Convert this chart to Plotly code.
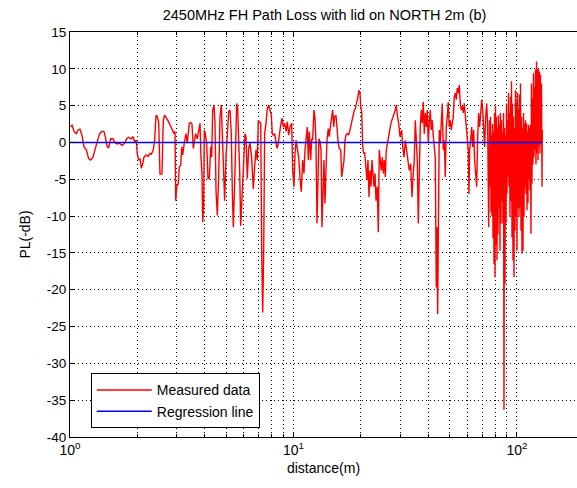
import plotly.graph_objects as go

# ---------------- data (distance in m, path loss in -dB) ----------------
dist_1 = [1.007, 1.021, 1.042, 1.067, 1.086, 1.108, 1.131, 1.155, 1.183, 1.212,
          1.238, 1.267, 1.298, 1.325, 1.357, 1.390, 1.419, 1.438, 1.468, 1.489,
          1.521, 1.557, 1.584, 1.628, 1.668, 1.709, 1.756, 1.793, 1.830, 1.880,
          1.913, 1.946, 1.979, 1.999, 2.028, 2.057, 2.085, 2.115, 2.143, 2.189,
          2.233, 2.280, 2.311, 2.359, 2.392, 2.426, 2.458, 2.493, 2.527, 2.579,
          2.614, 2.651, 2.708, 2.763, 2.822, 2.880, 2.920, 2.950]
pl_1 = [2.1, 2.4, 1.5, 1.2, 1.7, 1.8, 1.0, -0.6, -1.0, -2.2,
        -2.4, -2.0, -0.8, 0.3, 1.2, 1.5, 1.5, 0.8, -0.6, -0.7,
        0.5, 0.5, 0.0, -0.2, -0.1, -0.4, -0.1, 0.5, 0.7, 0.5,
        0.8, 0.1, 0.3, -1.5, -2.4, -2.2, -3.5, -2.9, -2.0, -1.7,
        -1.9, -1.5, -1.6, -1.0, 0.3, 3.7, 3.5, 2.8, -4.3, -4.3,
        3.0, 3.7, 3.3, 2.8, 2.2, 1.5, 1.2, 1.5]

dist_2 = [2.972, 3.002, 3.052, 3.083, 3.129, 3.161, 3.193, 3.246, 3.304, 3.348,
          3.417, 3.468, 3.514, 3.562, 3.598, 3.651, 3.711, 3.777, 3.817, 3.857,
          3.896, 3.924, 3.964, 3.989, 4.030, 4.089, 4.143, 4.199, 4.262, 4.305,
          4.349, 4.409, 4.455, 4.501, 4.561, 4.627, 4.690, 4.753, 4.802, 4.852,
          4.920, 4.989, 5.056, 5.128, 5.199, 5.269, 5.323, 5.378, 5.454, 5.514,
          5.570, 5.627, 5.685, 5.742, 5.806, 5.865, 5.925, 6.006, 6.068, 6.131,
          6.212, 6.302, 6.389, 6.501, 6.609, 6.702, 6.797, 6.887, 6.959, 7.030,
          7.135, 7.208, 7.281, 7.356, 7.430, 7.535, 7.634, 7.744, 7.852, 7.958,
          8.039, 8.123, 8.237, 8.353, 8.438, 8.523, 8.639, 8.768, 8.884, 9.004,
          9.130, 9.258, 9.381, 9.516, 9.646, 9.816, 9.916, 10.05, 10.16, 10.27,
          10.40, 10.55]
pl_2 = [-7.9, -6.0, -5.6, -3.3, -3.1, -0.6, -1.7, -0.1, 1.2, -0.1,
        2.6, 2.7, 2.5, -0.8, -0.1, 1.2, 0.5, 1.7, 2.6, -2.2,
        -4.2, -10.8, -8.8, 1.7, 1.2, -0.1, -4.9, -4.9, -0.6, -2.0,
        4.4, 5.1, 2.6, -6.5, -9.9, -4.7, 3.5, 5.1, 1.7, -3.8,
        -7.9, -2.0, 2.1, 4.2, 4.4, 1.2, -6.5, -11.5, -5.6, 2.6,
        5.3, 4.6, 1.2, -3.8, -11.3, -7.9, -5.1, -2.0, 1.2, 0.8,
        -4.9, -0.8, -0.1, -2.2, -6.3, -3.3, -1.0, -2.4, 3.0, 2.8,
        2.6, -15.1, -23.1, -14.7, 1.2, 2.6, 4.6, 5.1, 4.4, 3.7,
        1.2, 1.0, 1.2, 0.3, -0.8, -0.4, 1.2, 2.4, 3.3, 2.1,
        2.6, 1.5, 2.8, 1.0, 2.1, 2.6, -3.8, -6.0, -1.5, 0.3,
        -0.8, -2.0]

dist_3 = [10.69, 10.83, 10.99, 11.14, 11.26, 11.38, 11.53, 11.65, 11.77, 11.94,
          12.06, 12.18, 12.35, 12.48, 12.61, 12.74, 12.87, 13.00, 13.14, 13.28,
          13.41, 13.55, 13.69, 13.83, 13.97, 14.12, 14.31, 14.45, 14.68, 14.83,
          14.98, 15.13, 15.28, 15.49, 15.69, 15.86, 16.02, 16.27, 16.43, 16.60,
          16.83, 17.00, 17.18, 17.40, 17.65, 17.90, 18.09, 18.27, 18.52, 18.71,
          18.90, 19.17, 19.42, 19.63, 19.84, 19.98, 20.19, 20.40, 20.60, 20.81,
          21.11, 21.32, 21.54, 21.77, 21.99, 22.22, 22.45, 22.67, 22.91, 23.16,
          23.40, 23.71, 23.96, 24.20, 24.46, 24.71, 24.96, 25.22, 25.48, 25.75,
          26.02, 26.28, 26.56, 26.83, 27.11, 27.39, 27.67, 27.96, 28.25, 28.55,
          28.84, 29.14, 29.56, 29.96, 30.49, 30.80, 31.22, 31.64, 32.10, 32.52,
          32.96, 33.45, 33.90, 34.36, 34.70, 35.08, 35.44, 35.80, 36.18, 36.54]
pl_3 = [-4.7, -6.7, -2.4, -4.2, -1.0, 0.8, 2.1, -2.4, 1.5, -2.4,
        0.5, 0.3, 4.4, 3.3, -0.1, -11.0, -2.4, 0.5, 0.1, -1.0,
        -11.5, -7.9, -2.4, -8.3, -4.7, 0.3, 1.9, 0.8, 2.6, 4.0,
        4.4, 2.1, 3.5, 3.7, 1.2, -0.1, -0.8, -1.0, -4.7, -3.3,
        -2.4, 0.3, 1.0, 1.2, 1.0, 1.7, 2.4, 3.0, 4.0, 4.4,
        4.6, 5.3, 6.2, 7.1, 6.7, 4.9, 4.2, -0.6, -1.5, -1.3,
        -3.8, -5.1, -2.4, -7.4, -3.8, -6.0, -2.4, -4.7, -6.0, -4.2,
        -7.9, -6.0, -12.2, -1.0, -2.4, -3.8, -2.0, -4.2, -2.4, -4.7,
        -1.0, -0.1, 0.8, 1.7, 2.1, 2.8, 3.3, 3.7, 4.0, 4.4,
        5.1, 3.7, 2.6, 0.8, 1.7, -0.6, -2.0, 0.3, -1.0, -2.4,
        -3.8, -2.9, -7.4, -4.2, -2.4, 3.0, -0.6, -2.4, -11.0, -3.8]

dist_4 = [36.92, 37.31, 37.69, 38.08, 38.47, 38.88, 39.28, 39.68, 40.10, 40.50,
          40.94, 41.36, 41.78, 42.22, 42.65, 43.09, 43.54, 43.85, 44.16, 44.44,
          44.89, 45.37, 45.84, 46.31, 46.79, 47.27, 47.77, 48.26, 48.75, 49.26,
          49.76, 50.30, 50.82, 51.33, 51.87, 52.40, 52.95, 53.50, 54.05, 54.61,
          55.17, 55.76, 56.34, 56.91, 57.51, 58.09, 58.70, 59.31, 59.91, 60.54,
          60.98, 61.39, 62.07, 62.70, 63.35, 63.99, 64.64, 65.35, 66.02, 66.70,
          67.38, 68.06, 68.81, 69.51, 70.22, 70.94, 71.66, 72.45, 73.19, 73.93,
          74.69, 75.16]
pl_4 = [2.1, 4.4, 2.6, 5.5, 1.2, 4.0, 2.1, 4.4, -0.1, 2.6,
        4.4, 1.7, 3.0, 0.8, -1.0, -2.0, -19.7, -11.5, -23.3, -7.0,
        1.7, -0.1, 3.5, 5.3, -1.0, 0.3, -4.7, 2.1, 3.5, 5.5,
        2.1, 3.0, 1.7, 2.6, 3.5, 6.2, 6.7, 5.8, 7.4, 6.7,
        7.8, 5.3, 4.4, 4.9, 4.0, 5.3, 3.7, 2.6, 0.8, -1.0,
        -7.0, -1.0, 0.3, 2.1, -0.6, 1.7, -2.4, -4.2, -6.0, 0.8,
        4.0, 2.1, 4.9, 5.8, 4.4, 2.1, -0.6, 3.5, 5.3, 2.1,
        -11.5, -2.4]

dist_5 = [75.30, 75.72, 76.11, 76.51, 76.90, 77.30, 77.70, 78.10, 78.51, 78.91,
          79.32, 79.72, 80.13, 80.55, 80.97, 81.39, 81.81, 82.23, 82.66, 83.09,
          83.52, 83.93, 84.37, 84.80, 85.24, 85.68, 86.13, 86.57, 87.02, 87.47,
          87.92, 88.37, 88.83, 89.29, 89.75, 90.21, 90.68, 91.15, 91.62, 92.09,
          92.57, 93.04, 93.52, 94.01, 94.49, 94.98, 95.47, 95.97, 96.46, 96.96,
          97.46, 97.96, 98.47, 98.98, 99.49, 100.0, 100.5, 101.1, 101.6, 102.1,
          102.6, 103.1, 103.7, 104.2, 104.8, 105.3, 105.9, 106.4, 107.0, 107.5,
          108.1, 108.6, 109.2, 109.8, 110.3, 110.9, 111.5, 112.0, 112.6, 113.2,
          113.8, 114.3, 114.9, 115.5, 116.1, 116.7, 117.3, 117.9, 118.5, 119.1,
          119.8, 120.4, 121.0, 121.6, 122.3, 122.9, 123.5, 124.2, 124.8, 125.4,
          126.1, 126.7, 127.4, 128.0, 128.7, 129.4, 129.8]
pl_5 = [3.0, -6.0, 3.5, -9.5, 1.0, -10.0, 2.5, -13.0, 1.5, -16.5,
        4.0, -18.3, 5.0, -14.0, 3.5, -16.0, 2.0, -12.5, 3.7, -9.0,
        2.5, -14.7, 4.0, -11.0, 3.0, -8.0, 1.5, -11.0, 4.0, -36.3,
        2.0, -19.2, 1.0, -11.0, 5.3, -7.0, 3.0, -4.7, 6.7, -6.0,
        4.0, -10.1, 6.2, -8.0, 8.3, -12.9, 5.3, -16.0, 3.5, -18.3,
        2.0, -12.0, 7.1, -10.1, 5.5, -14.7, 6.7, -9.0, 4.5, -10.1,
        6.5, -8.8, 8.0, -12.0, 3.5, -15.1, 2.0, -14.7, 4.0, -10.1,
        2.5, -6.0, 3.0, -7.0, 2.6, -9.2, 1.5, -8.3, 2.4, -5.0,
        2.0, -6.5, 2.4, -12.4, 8.0, -5.6, 6.0, -3.0, 9.4, -2.0,
        7.5, -1.0, 9.9, -3.0, 11.0, -1.5, 10.0, -2.4, 9.9, -0.5,
        9.6, -1.5, 9.2, 0.0, 8.0, -6.0, 1.7]

reg_distance = [1.0, 129.8]
reg_pl = [0.0, 0.0]

x_major_vals = [1, 10, 100]
x_major_text = ["10<sup>0</sup>", "10<sup>1</sup>", "10<sup>2</sup>"]
x_minor_vals = [2, 3, 4, 5, 6, 7, 8, 9, 20, 30, 40, 50, 60, 70, 80, 90, 200]
y_tick_vals = [15, 10, 5, 0, -5, -10, -15, -20, -25, -30, -35, -40]
y_tick_text = ["15", "10", "5", "0", "-5", "-10", "-15", "-20", "-25", "-30", "-35", "-40"]

distance = dist_1 + dist_2 + dist_3 + dist_4 + dist_5
pl = pl_1 + pl_2 + pl_3 + pl_4 + pl_5

FONT = "Liberation Sans, Arial, Helvetica, sans-serif"
GRID = dict(gridcolor="#000000", griddash="1px,3px", gridwidth=1)

fig = go.Figure()
fig.add_trace(go.Scatter(x=distance, y=pl, mode="lines", name="Measured data",
                         line=dict(color="#ff0000", width=1.4)))
fig.add_trace(go.Scatter(x=reg_distance, y=reg_pl, mode="lines", name="Regression line",
                         line=dict(color="#0000ff", width=1.6)))

fig.update_layout(
    width=577, height=488,
    margin=dict(l=70, r=0, t=32, b=51),
    paper_bgcolor="white", plot_bgcolor="white",
    font=dict(family=FONT, size=13, color="black"),
    title=dict(text="2450MHz FH Path Loss with lid on NORTH 2m (b)",
               x=0.5625, xanchor="center", y=0.969, yanchor="middle",
               font=dict(size=14.5, family=FONT, color="black")),
    showlegend=True,
    legend=dict(x=0.041, y=0.157, xanchor="left", yanchor="top",
                bgcolor="white", bordercolor="black", borderwidth=1,
                font=dict(size=14, family=FONT, color="black"),
                itemwidth=55),
)

fig.update_xaxes(
    type="log", range=[0, 2.2685],
    showline=True, linecolor="black", linewidth=1, mirror="allticks",
    ticks="inside", ticklen=5, tickcolor="black",
    tickmode="array", tickvals=x_major_vals, ticktext=x_major_text,
    tickfont=dict(size=14, family=FONT),
    showgrid=True, zeroline=False, **GRID,
    minor=dict(tickmode="array", tickvals=x_minor_vals, ticks="inside", ticklen=3,
               tickcolor="black", showgrid=True, **GRID),
    title=dict(text="distance(m)", font=dict(size=14, family=FONT), standoff=6),
)
fig.update_yaxes(
    range=[-40, 15],
    showline=True, linecolor="black", linewidth=1, mirror=False,
    ticks="inside", ticklen=5, tickcolor="black",
    tickmode="array", tickvals=y_tick_vals, ticktext=y_tick_text,
    tickfont=dict(size=13.5, family=FONT),
    showgrid=True, zeroline=False, **GRID,
    title=dict(text="PL(-dB)", font=dict(size=14, family=FONT), standoff=12),
)

fig.write_html("out.html")
